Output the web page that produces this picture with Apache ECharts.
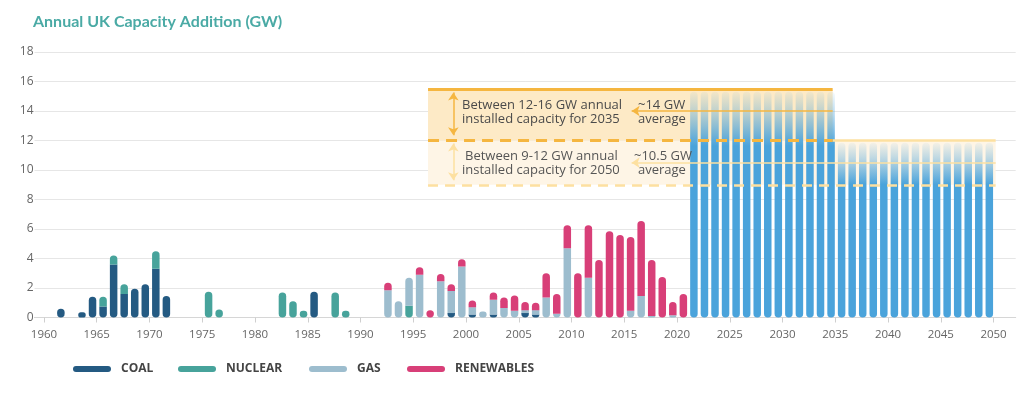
<!DOCTYPE html>
<html><head><meta charset="utf-8">
<script src="https://cdn.jsdelivr.net/npm/echarts@6/dist/echarts.min.js"></script>
<style>html,body{margin:0;padding:0;background:#fff}#c{width:1024px;height:395px}</style>
</head><body><div id="c"></div>
<script>
// ---------- DATA ----------
const histYears = [
  1961,1962,1963,1964,1965,1966,1967,1968,1969,1970,
  1971,1972,1973,1974,1975,1976,1977,1978,1979,1980,
  1981,1982,1983,1984,1985,1986,1987,1988,1989,1990,
  1991,1992,1993,1994,1995,1996,1997,1998,1999,2000,
  2001,2002,2003,2004,2005,2006,2007,2008,2009,2010,
  2011,2012,2013,2014,2015,2016,2017,2018,2019,2020
];
const coal = [
  0.6,null,0.35,1.4,0.75,3.6,1.6,1.95,2.25,3.3,
  1.45,null,null,null,null,null,null,null,null,null,
  null,null,null,null,1.75,null,null,null,null,null,
  null,null,null,null,null,null,null,0.3,null,0.2,
  null,0.2,null,null,0.3,0.2,null,null,null,null,
  null,null,null,null,null,null,null,null,null,null
];
const nuclear = [
  null,null,null,null,0.65,0.6,0.65,null,null,1.2,
  null,null,null,null,1.75,0.55,null,null,null,null,
  null,1.7,1.1,0.45,null,null,1.7,0.45,null,null,
  null,null,null,0.8,null,null,null,null,null,null,
  null,null,null,null,null,null,null,null,null,null,
  null,null,null,null,null,null,null,null,null,null
];
const gas = [
  null,null,null,null,null,null,null,null,null,null,
  null,null,null,null,null,null,null,null,null,null,
  null,null,null,null,null,null,null,null,null,null,
  null,1.85,1.1,1.9,2.9,null,2.45,1.5,3.45,0.5,
  0.4,1.0,0.65,0.45,0.2,0.3,1.35,0.25,4.7,null,
  2.7,null,null,null,0.45,1.45,0.1,null,0.15,null
];
const renewables = [
  null,null,null,null,null,null,null,null,null,null,
  null,null,null,null,null,null,null,null,null,null,
  null,null,null,null,null,null,null,null,null,null,
  null,0.5,null,null,0.5,0.5,0.5,0.45,0.5,0.45,
  null,0.5,0.7,1.05,0.55,0.5,1.65,1.35,1.55,3.0,
  3.55,3.9,5.85,5.6,5.0,5.1,3.8,2.75,0.9,1.6
];
const futureYears = [
  2021,2022,2023,2024,2025,2026,2027,2028,2029,2030,2031,2032,2033,2034,
  2035,2036,2037,2038,2039,2040,2041,2042,2043,2044,2045,2046,2047,2048,2049
];
const future = [
  15.3,15.3,15.3,15.3,15.3,15.3,15.3,15.3,15.3,15.3,15.3,15.3,15.3,15.3,
  11.85,11.85,11.85,11.85,11.85,11.85,11.85,11.85,11.85,11.85,11.85,11.85,11.85,11.85,11.85
];
const xTicks = [1960,1965,1970,1975,1980,1985,1990,1995,2000,2005,2010,2015,2020,2025,2030,2035,2040,2045,2050];
const names = ['COAL','NUCLEAR','GAS','RENEWABLES'];

// annotation values (GW / year positions)
const band2035 = {from:1996.4, to:2034.75, low:12, high:15.45, avg:14};
const band2050 = {from:1996.4, to:2050.2, low:9, high:12, avg:10.5};
const avgArrowX = 2015.7, rangeArrowX = 1998.8;

// ---------- AXIS / STYLE ----------
const CAT_FIRST = 1959, CAT_LAST = 2051;         // one band per year
const categories = [];
for (let y = CAT_FIRST; y <= CAT_LAST; y++) categories.push(String(y));
const LABEL_MIN = CAT_FIRST + 0.1;                // bars sit slightly right of the year tick
const LABEL_MAX = LABEL_MIN + categories.length;

const BW = 7.5, R = 3.75;
const colors = {COAL:'#245a82', NUCLEAR:'#47a39b', GAS:'#9dbdce', RENEWABLES:'#d83f78'};
const ORANGE = '#f5b640', PALE = '#fde0a0';
const legendLeft = [73, 178, 309, 407];
const capsule = 'path://M3 0H35A3 3 0 0 1 35 6H3A3 3 0 0 1 3 0Z';

const stacks = [coal, nuclear, gas, renewables];
function radiusFor(k, i) {
  let top = -1, bottom = -1;
  for (let j = 0; j < stacks.length; j++) {
    if (stacks[j][i] != null) { if (bottom < 0) bottom = j; top = j; }
  }
  const t = k === top ? R : 0, b = k === bottom ? R : 0;
  return [t, t, b, b];
}
const blueGrad = new echarts.graphic.LinearGradient(0, 0, 0, 1, [
  {offset:0, color:'rgba(74,163,219,0.05)'},
  {offset:0.1, color:'rgba(74,163,219,0.4)'},
  {offset:0.24, color:'rgba(74,163,219,1)'},
  {offset:1, color:'#4aa3db'}
]);

const series = names.map((n, k) => {
  const data = [];
  histYears.forEach((y, i) => {
    if (stacks[k][i] != null) data.push({value:[String(y), stacks[k][i]], itemStyle:{borderRadius: radiusFor(k, i)}});
  });
  return {name:n, type:'bar', stack:'all', barWidth:BW, xAxisIndex:0, yAxisIndex:0,
    itemStyle:{color:colors[n]}, silent:true, data:data};
});
series.push({
  name:'FUTURE', type:'bar', stack:'all', barWidth:BW, xAxisIndex:0, yAxisIndex:0, silent:true,
  data: futureYears.map((y, i) => ({value:[String(y), future[i]], itemStyle:{borderRadius:R, color:blueGrad}}))
});

function seg(x1, y1, x2, y2, style, s1, s2) {
  return [{coord:[x1, y1], symbol: s1 || 'none'}, {coord:[x2, y2], symbol: s2 || 'none', lineStyle: style}];
}
series.push({
  name:'annotations', type:'line', xAxisIndex:1, yAxisIndex:0, data:[], silent:true, symbol:'none',
  markArea: {
    silent:true,
    data: [
      [{coord:[band2050.from, band2050.low], itemStyle:{color:'#fef5e6'}}, {coord:[band2050.to, band2050.high]}],
      [{coord:[band2035.from, band2035.low], itemStyle:{color:'#fdeac6'}}, {coord:[band2035.to, band2035.high]}]
    ]
  },
  markLine: {
    silent:true, symbolSize:8, label:{show:false}, animation:false,
    data: [
      seg(band2050.from, band2050.low, band2050.to, band2050.low, {color:PALE, width:2.5, type:[10,7]}),
      seg(band2035.to, band2050.high, band2050.to, band2050.high, {color:PALE, width:2.5, type:'solid'}),
      seg(band2035.from, band2035.low, band2035.to, band2035.low, {color:ORANGE, width:3, type:[11,7]}),
      seg(band2035.from, band2035.high, band2035.to, band2035.high, {color:ORANGE, width:3, type:'solid'}),
      seg(band2035.to, band2035.avg, avgArrowX, band2035.avg, {color:ORANGE, width:1.5, type:'solid'}, 'none', 'arrow'),
      seg(band2050.to, band2050.avg, avgArrowX, band2050.avg, {color:PALE, width:1.5, type:'solid'}, 'none', 'arrow'),
      seg(rangeArrowX, 15.25, rangeArrowX, 12.35, {color:ORANGE, width:1.5, type:'solid'}, 'arrow', 'arrow'),
      seg(rangeArrowX, 11.8, rangeArrowX, 9.3, {color:PALE, width:1.5, type:'solid'}, 'arrow', 'arrow')
    ]
  }
});

function txt(x, y, text, color) {
  return {type:'text', x:x, y:y, z:10, silent:true,
    style:{text:text, fill:color, fontFamily:'Open Sans', fontSize:13, verticalAlign:'middle', align:'left'}};
}

const chart = echarts.init(document.getElementById('c'), null, {renderer:'canvas'});
chart.setOption({
  animation:false,
  backgroundColor:'#fff',
  title: {text:'Annual UK Capacity Addition (GW)', left:33, top:14, padding:0,
    textStyle:{color:'#4aaaa5', fontFamily:'Lato', fontWeight:'bold', fontSize:16}},
  grid: {left:34.5, right:8.3, top:52, bottom:77.5},
  xAxis: [
    {type:'category', data:categories, boundaryGap:true, show:false},
    {type:'value', min:LABEL_MIN, max:LABEL_MAX, position:'bottom',
      axisLine:{show:true, lineStyle:{color:'#d6d6d6'}},
      axisTick:{show:true, length:5, customValues:xTicks, lineStyle:{color:'#cfcfcf'}},
      axisLabel:{customValues:xTicks, color:'#666', fontFamily:'Open Sans', fontSize:11.5, margin:11,
        formatter: v => String(v)},
      splitLine:{show:false}}
  ],
  yAxis: {
    type:'value', min:0, max:18, interval:2,
    axisLine:{show:false}, axisTick:{show:false},
    axisLabel:{color:'#666', fontFamily:'Open Sans', fontSize:12, margin:1},
    splitLine:{lineStyle:{color:'#e6e6e6', width:1}}
  },
  legend: names.map((n, i) => ({
    data:[n], left:legendLeft[i], top:363, itemWidth:38, itemHeight:6, icon:capsule,
    selectedMode:false, padding:0,
    textStyle:{fontFamily:'Open Sans', fontWeight:'bold', fontSize:12, color:'#444', padding:[0,0,0,5]}
  })),
  graphic: [
    txt(462, 105, 'Between 12-16 GW annual', '#4a4a4a'),
    txt(462, 119, 'installed capacity for 2035', '#4a4a4a'),
    txt(638, 105, '~14 GW', '#4a4a4a'),
    txt(638, 119, 'average', '#4a4a4a'),
    txt(465, 156, 'Between 9-12 GW annual', '#555'),
    txt(462, 170, 'installed capacity for 2050', '#555'),
    txt(634, 156, '~10.5 GW', '#555'),
    txt(638, 170, 'average', '#555')
  ],
  series: series
});
</script>
</body></html>
